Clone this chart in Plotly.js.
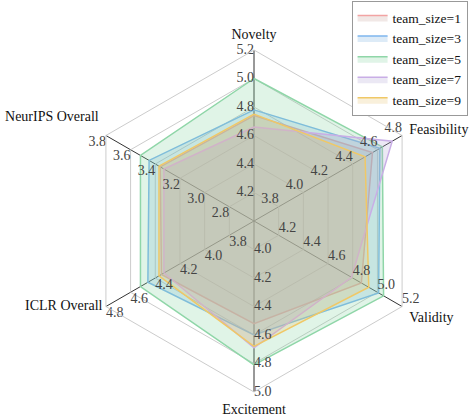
<!DOCTYPE html>
<html>
<head>
<meta charset="utf-8">
<script src="https://cdn.plot.ly/plotly-3.0.1.min.js"></script>
<style>html,body{margin:0;padding:0;background:#fff;}#chart{width:469px;height:418px;}</style>
</head>
<body>
<div id="chart"></div>
<script>
// Axes (clockwise from top) and their own scales
const axes = ["Novelty", "Feasibility", "Validity", "Excitement", "ICLR Overall", "NeurIPS Overall"];
const axisMin = [4.0, 3.6, 4.0, 3.8, 3.6, 2.6];
const axisMax = [5.2, 4.8, 5.2, 5.0, 4.8, 3.8];
const tickStep = 0.2;

// Series values (order follows axes)
const seriesNames = ["team_size=1", "team_size=3", "team_size=5", "team_size=7", "team_size=9"];
const ts1 = [4.74, 4.56, 4.87, 4.52, 4.35, 3.36];
const ts3 = [4.78, 4.62, 5.01, 4.60, 4.46, 3.45];
const ts5 = [5.00, 4.64, 5.05, 4.81, 4.52, 3.52];
const ts7 = [4.66, 4.72, 4.79, 4.69, 4.33, 3.33];
const ts9 = [4.75, 4.50, 4.93, 4.68, 4.37, 3.37];
const seriesValues = [ts1, ts3, ts5, ts7, ts9];

const lineColors = ["#f2a3a3", "#7eb6ee", "#8fd6a8", "#c9aee6", "#f0c866"];
const fillColors = ["rgba(200,165,155,0.25)", "rgba(120,175,225,0.25)", "rgba(130,210,160,0.25)", "rgba(175,165,210,0.25)", "rgba(230,195,110,0.25)"];

const FONT = "Liberation Serif";
const norm = (v, i) => Math.round((v - axisMin[i]) / (axisMax[i] - axisMin[i]) * 1e9) / 1e9;

const data = [];

// Series polygons
seriesValues.forEach((vals, s) => {
  const r = vals.map((v, i) => norm(v, i));
  data.push({
    type: "scatterpolar", mode: "lines", name: seriesNames[s],
    r: r.concat([r[0]]), theta: axes.concat([axes[0]]),
    fill: "toself", fillcolor: fillColors[s],
    line: {color: lineColors[s], width: 1.5}
  });
});

// Per-axis tick labels
const tickPositions = ["middle left", "top left", "top right", "middle right", "bottom right", "bottom left"];
axes.forEach((ax, i) => {
  const n = Math.round((axisMax[i] - axisMin[i]) / tickStep);
  const r = [], th = [], tx = [];
  for (let k = 1; k <= n; k++) {
    const v = axisMin[i] + k * tickStep;
    r.push(norm(v, i)); th.push(ax); tx.push(v.toFixed(1));
  }
  data.push({
    type: "scatterpolar", mode: "text", r: r, theta: th, text: tx,
    textposition: tickPositions[i], cliponaxis: false, showlegend: false, hoverinfo: "skip",
    textfont: {family: FONT, size: 14, color: "#444"}
  });
});

// ICLR axis name drawn as a text mark at the axis end
data.push({
  type: "scatterpolar", mode: "text", r: [1], theta: [axes[4]], text: ["ICLR Overall "],
  textposition: "middle left", cliponaxis: false, showlegend: false, hoverinfo: "skip",
  textfont: {family: FONT, size: 14, color: "#111"}
});

// Axis label display text (line break only nudges placement)
const axisLabelText = ["Novelty", "Feasibility", "Validity", "Excitement", "", "NeurIPS Overall<br> "];

const radialTicks = [];
for (let k = 1; k <= 6; k++) radialTicks.push(k / 6);

const layout = {
  width: 469, height: 418,
  margin: {l: 0, r: 0, t: 0, b: 0},
  paper_bgcolor: "#fff",
  font: {family: FONT, size: 13, color: "#111"},
  polar: {
    domain: {x: [83 / 469, 425 / 469], y: [26 / 418, 368 / 418]},
    gridshape: "linear",
    bgcolor: "#fff",
    radialaxis: {range: [0, 1], tickvals: radialTicks, showticklabels: false, ticks: "",
                 showline: false, gridcolor: "#cccccc", gridwidth: 1},
    angularaxis: {type: "category", categoryarray: axes, rotation: 90, direction: "clockwise",
                  tickmode: "array", tickvals: axes, ticktext: axisLabelText,
                  showticklabels: true, ticks: "outside", ticklen: 5, tickcolor: "rgba(0,0,0,0)",
                  gridcolor: "#333", gridwidth: 1,
                  tickfont: {family: FONT, size: 14, color: "#111"},
                  linecolor: "#cccccc", linewidth: 1}
  },
  showlegend: true,
  legend: {x: 0.997, y: 0.997, xanchor: "right", yanchor: "top",
           bgcolor: "#fff", bordercolor: "#999", borderwidth: 1,
           font: {family: FONT, size: 13.5, color: "#111"}, tracegroupgap: 0}
};

Plotly.newPlot("chart", data, layout, {displayModeBar: false, staticPlot: true});
</script>
</body>
</html>
